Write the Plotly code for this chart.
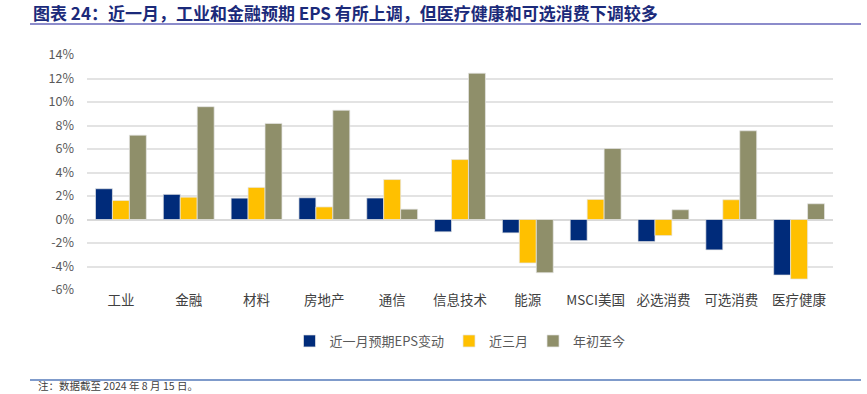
import plotly.graph_objects as go

categories = ["工业", "金融", "材料", "房地产", "通信", "信息技术", "能源", "MSCI美国", "必选消费", "可选消费", "医疗健康"]
eps_1m = [2.62, 2.14, 1.82, 1.85, 1.83, -1.05, -1.14, -1.80, -1.88, -2.59, -4.73]
eps_3m = [1.62, 1.90, 2.73, 1.07, 3.40, 5.10, -3.70, 1.71, -1.37, 1.68, -5.07]
eps_ytd = [7.18, 9.60, 8.18, 9.30, 0.88, 12.45, -4.53, 6.04, 0.83, 7.55, 1.34]
series_names = ["近一月预期EPS变动", "近三月", "年初至今"]
tick_vals = [-6, -4, -2, 0, 2, 4, 6, 8, 10, 12, 14]
tick_text = ["-6%", "-4%", "-2%", "0%", "2%", "4%", "6%", "8%", "10%", "12%", "14%"]

colors = ["#002B7A", "#FFC000", "#8F8F6A"]
font = "Noto Sans CJK SC"

fig = go.Figure()
for name, vals, c in zip(series_names, [eps_1m, eps_3m, eps_ytd], colors):
    fig.add_trace(go.Bar(x=categories, y=vals, name=name,
                         marker=dict(color=c, line=dict(color="rgba(230,230,230,0.9)", width=0.8))))

W, H = 867, 394
L, R, T, B = 87, 867 - 833, 55, 394 - 290
pw = W - L - R
ph = H - T - B

def px_x(x):
    return (x - L) / pw

def px_y(y):
    return (T + ph - y) / ph

fig.update_layout(
    width=W, height=H,
    margin=dict(l=L, r=R, t=T, b=B, autoexpand=False),
    plot_bgcolor="white", paper_bgcolor="white",
    barmode="group", bargap=0.25, bargroupgap=0,
    font=dict(family=font, color="#595959", size=12),
    xaxis=dict(showline=False, ticks="", tickfont=dict(size=13.5, color="#404040"), showgrid=False),
    yaxis=dict(range=[-6, 14], tickvals=tick_vals, ticktext=tick_text, showgrid=True,
               gridcolor="#E3E3E3", gridwidth=1.5, zeroline=True, zerolinecolor="#D9D9D9",
               zerolinewidth=1.5, tickfont=dict(size=12.5, color="#595959"), ticklabelstandoff=12),
    legend=dict(orientation="h", x=0.5, xanchor="center", y=px_y(341), yanchor="middle",
                font=dict(size=13, color="#595959"), itemwidth=30, traceorder="normal"),
    showlegend=True,
    shapes=[
        dict(type="line", xref="paper", yref="paper", x0=px_x(30), x1=px_x(861), y0=px_y(24), y1=px_y(24),
             line=dict(color="#8C8CCB", width=2)),
        dict(type="line", xref="paper", yref="paper", x0=px_x(30), x1=px_x(861), y0=px_y(380), y1=px_y(380),
             line=dict(color="#7F9BCB", width=2)),
    ],
    annotations=[
        dict(text="<b>图表 24：近一月，工业和金融预期 EPS 有所上调，但医疗健康和可选消费下调较多</b>",
             xref="paper", yref="paper", x=px_x(32), y=px_y(13), xanchor="left", yanchor="middle",
             showarrow=False, borderpad=0, font=dict(size=17, color="#1B2A7A", family=font)),
        dict(text="注：数据截至 2024 年 8 月 15 日。", xref="paper", yref="paper", x=px_x(37), y=px_y(394),
             xanchor="left", yanchor="bottom", showarrow=False, borderpad=0,
             font=dict(size=10.5, color="#404040", family=font)),
    ],
)

fig.write_html("out.html", config={"displayModeBar": False},
               post_script="document.body.style.margin='0px';document.body.style.padding='0px';")
